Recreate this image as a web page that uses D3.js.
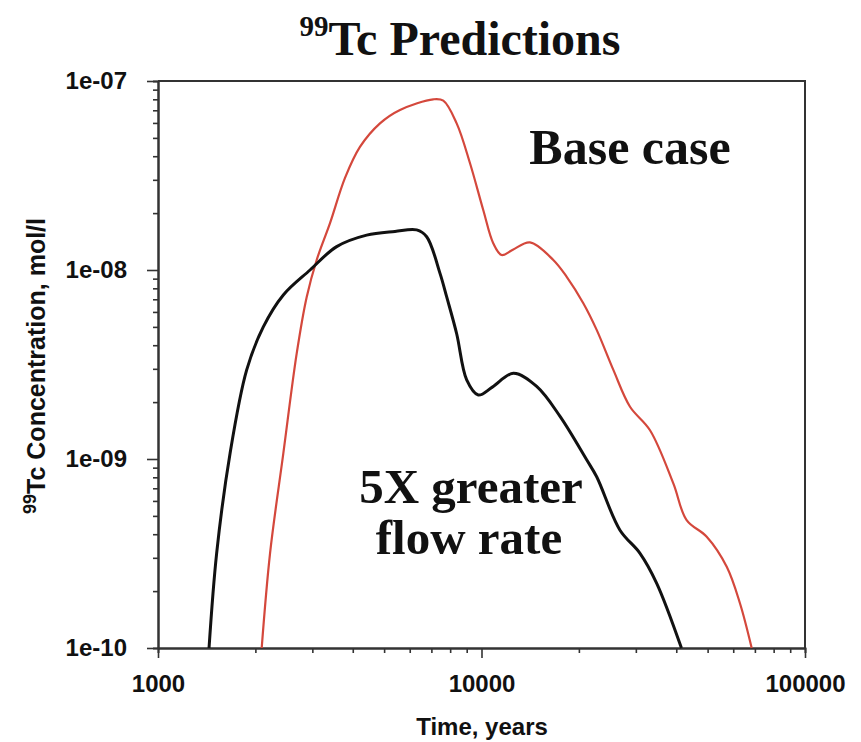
<!DOCTYPE html>
<html>
<head>
<meta charset="utf-8">
<script src="https://cdn.jsdelivr.net/npm/d3@7"></script>
<style>
  body { margin: 0; background: #fff; }
  svg { display: block; }
  .tick text { font-family: "Liberation Sans", Arial, sans-serif; font-weight: bold; fill: #111; }
  .serif { font-family: "Liberation Serif", "Times New Roman", serif; font-weight: bold; fill: #111; }
</style>
</head>
<body>
<svg width="861" height="742"></svg>
<script>
// 5X greater flow rate (black)
var timeFast = [1438, 1518, 1670, 1880, 2116, 2440, 2951, 3567, 4416, 5400, 6303, 6769, 7443, 7806, 8380, 9000, 9773, 10800, 12544, 14810, 17490, 21140, 22700, 26800, 30900, 34800, 41500];
var concFast = [1e-10, 3.17e-10, 1.07e-9, 2.96e-9, 5.0e-9, 7.38e-9, 1.0e-8, 1.33e-8, 1.53e-8, 1.6e-8, 1.63e-8, 1.5e-8, 9.6e-9, 7.2e-9, 4.6e-9, 2.62e-9, 2.18e-9, 2.4e-9, 2.84e-9, 2.42e-9, 1.68e-9, 9.9e-10, 8.05e-10, 4.2e-10, 3.17e-10, 2.2e-10, 1e-10];

// base case (red)
var timeBase = [2092, 2220, 2440, 2684, 2882, 3094, 3402, 3785, 4210, 4855, 5598, 7096, 7620, 8380, 9215, 10130, 10880, 11540, 12500, 14120, 16670, 18340, 20640, 22700, 25560, 28780, 33180, 39170, 43060, 49680, 57290, 62970, 68420];
var concBase = [1e-10, 3.17e-10, 1.07e-9, 3.62e-9, 7.2e-9, 1.13e-8, 1.77e-8, 3.07e-8, 4.48e-8, 5.97e-8, 7.03e-8, 8.0e-8, 7.87e-8, 5.97e-8, 3.67e-8, 2.07e-8, 1.38e-8, 1.2e-8, 1.28e-8, 1.4e-8, 1.13e-8, 9.2e-9, 6.67e-9, 4.82e-9, 2.96e-9, 1.89e-9, 1.42e-9, 7.43e-10, 4.75e-10, 3.88e-10, 2.69e-10, 1.72e-10, 1e-10];

var xTicks = [1000, 10000, 100000];
var yTicks = [1e-10, 1e-9, 1e-8, 1e-7];

var svg = d3.select("svg"),
    plotL = 158, plotR = 805, plotT = 81, plotB = 648;

var x = d3.scaleLog().domain([1000, 100000]).range([plotL, plotR]),
    y = d3.scaleLog().domain([1e-10, 1e-7]).range([plotB, plotT]);

function minors(lo, hi) {
  var out = [];
  for (var d = lo; d < hi * 0.99; d *= 10)
    for (var k = 2; k <= 9; k++) out.push(d * k);
  return out;
}

function yfmt(v) {
  var e = Math.round(Math.log10(v));
  return "1e-" + String(-e).padStart(2, "0");
}

// frame
svg.append("path")
    .attr("d", "M" + plotL + "," + plotT + "H" + plotR + "V" + plotB)
    .attr("fill", "none").attr("stroke", "#333").attr("stroke-width", 2);

// x axis
var gx = svg.append("g").attr("transform", "translate(0," + plotB + ")");
gx.append("g").call(d3.axisBottom(x).tickValues(minors(1000, 100000)).tickSize(5).tickFormat(""));
gx.append("g").call(d3.axisBottom(x).tickValues(xTicks).tickSizeInner(10).tickSizeOuter(0).tickPadding(17).tickFormat(d3.format("d")))
    .selectAll("text").style("font-size", "24px");

// y axis
var gy = svg.append("g").attr("transform", "translate(" + plotL + ",0)");
gy.append("g").call(d3.axisLeft(y).tickValues(minors(1e-10, 1e-7)).tickSize(5).tickFormat(""));
gy.append("g").call(d3.axisLeft(y).tickValues(yTicks).tickSizeInner(11).tickSizeOuter(0).tickPadding(20).tickFormat(yfmt))
    .selectAll("text").style("font-size", "24px");

svg.selectAll(".domain").attr("stroke", "#333").attr("stroke-width", 2);
svg.selectAll(".tick line").attr("stroke", "#333").attr("stroke-width", 1.6);

// curves
var line = d3.line()
    .x(function(d) { return x(d[0]); })
    .y(function(d) { return y(d[1]); })
    .curve(d3.curveCatmullRom.alpha(0.5));

svg.append("path")
    .datum(d3.zip(timeBase, concBase))
    .attr("d", line)
    .attr("fill", "none").attr("stroke", "#d4483c").attr("stroke-width", 2.2);

svg.append("path")
    .datum(d3.zip(timeFast, concFast))
    .attr("d", line)
    .attr("fill", "none").attr("stroke", "#111").attr("stroke-width", 3);

// title
var title = svg.append("text").attr("class", "serif")
    .attr("x", 460).attr("y", 55).attr("text-anchor", "middle");
title.append("tspan").style("font-size", "29px").attr("dy", "-19").text("99");
title.append("tspan").style("font-size", "48px").attr("dy", "19").text("Tc Predictions");

// annotations
svg.append("text").attr("class", "serif")
    .attr("x", 630).attr("y", 164).attr("text-anchor", "middle")
    .style("font-size", "50px").text("Base case");
svg.append("text").attr("class", "serif")
    .attr("x", 471).attr("y", 503).attr("text-anchor", "middle")
    .style("font-size", "49px").text("5X greater");
svg.append("text").attr("class", "serif")
    .attr("x", 469).attr("y", 554).attr("text-anchor", "middle")
    .style("font-size", "49px").text("flow rate");

// axis titles
svg.append("text")
    .attr("x", 482).attr("y", 735).attr("text-anchor", "middle")
    .style("font-family", "Liberation Sans, Arial, sans-serif").style("font-weight", "bold")
    .style("font-size", "24px").attr("fill", "#111")
    .text("Time, years");

var yl = svg.append("text")
    .attr("transform", "translate(45,366) rotate(-90)")
    .attr("text-anchor", "middle")
    .style("font-family", "Liberation Sans, Arial, sans-serif").style("font-weight", "bold")
    .attr("fill", "#111");
yl.append("tspan").style("font-size", "18px").attr("dy", "-9").text("99");
yl.append("tspan").style("font-size", "25px").attr("dy", "9").text("Tc Concentration, mol/l");
</script>
</body>
</html>
